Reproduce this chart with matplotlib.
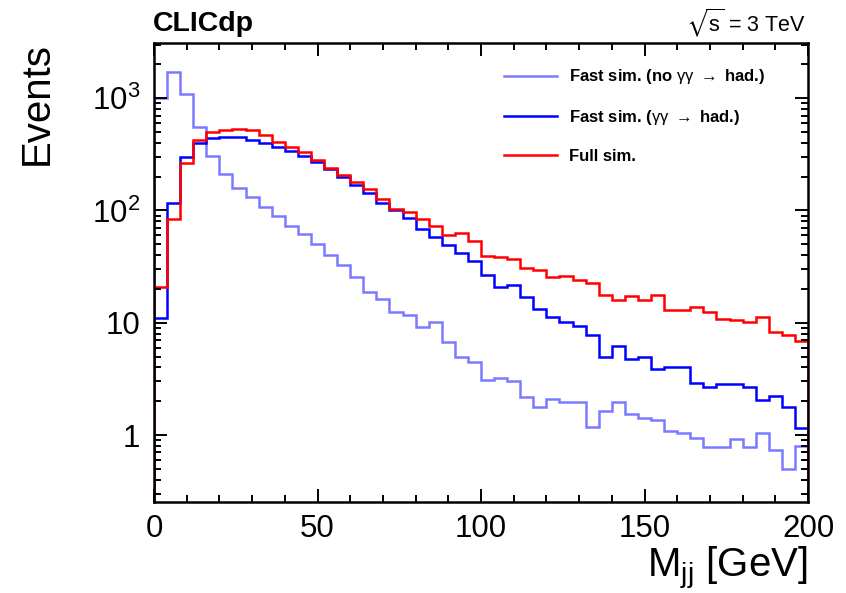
import numpy as np
import matplotlib
matplotlib.use("Agg")
import matplotlib.pyplot as plt
import matplotlib.ticker as ticker

# ── FONTS (Helvetica look-alike, as in ROOT) ───────────────
plt.rcParams['font.family'] = ['Liberation Sans', 'DejaVu Sans']
plt.rcParams['mathtext.fontset'] = 'custom'
plt.rcParams['mathtext.rm'] = 'Liberation Sans'
plt.rcParams['mathtext.it'] = 'Liberation Sans:italic'
plt.rcParams['mathtext.bf'] = 'Liberation Sans:bold'
plt.rcParams['mathtext.fallback'] = 'stix'

# ── DATA: dijet mass histograms, 4 GeV bins from 0 to 200 ──
bin_edges = np.arange(0, 204, 4)

fast_no_gg = [1000, 1700, 1100, 556, 307, 210, 159, 131, 108, 89,
              73, 62, 50, 40, 32.6, 25.7, 18.9, 16.3, 12.5, 11.7,
              9.2, 10.1, 6.8, 5.0, 4.5, 3.09, 3.2, 3.0, 2.19, 1.79,
              2.09, 1.95, 1.95, 1.19, 1.64, 1.98, 1.54, 1.41, 1.36, 1.09,
              1.04, 0.95, 0.79, 0.79, 0.92, 0.79, 1.04, 0.73, 0.50, 0.80]

fast_gg = [11, 116, 300, 396, 440, 448, 448, 424, 396, 365,
           340, 305, 272, 234, 200, 168, 142, 117, 102, 85,
           68, 58, 49, 41.5, 35.6, 26.6, 20.7, 21.7, 17.1, 13.2,
           11.3, 10.2, 9.35, 7.8, 5.0, 6.24, 4.72, 5.0, 3.85, 4.06,
           4.0, 2.89, 2.69, 2.85, 2.85, 2.66, 2.05, 2.22, 1.79, 1.15]

full_sim = [21, 84, 263, 424, 502, 520, 531, 520, 469, 409,
            365, 333, 281, 237, 207, 178, 154, 126, 104, 97,
            84, 72, 61, 63, 54, 39.3, 38.2, 36.6, 30.5, 29.5,
            25.7, 26.1, 24, 22.7, 17.6, 15.9, 17.3, 15.8, 17.6, 12.9,
            12.9, 13.8, 12.4, 10.85, 10.6, 10.2, 11.2, 8.2, 7.8, 6.9]

labels = [r'Fast sim. (no $\mathrm{\gamma\gamma}\ \rightarrow$ had.)',
          r'Fast sim. ($\mathrm{\gamma\gamma}\ \rightarrow$ had.)',
          'Full sim.']
colors = ['#7a7aff', '#0000ff', '#ff0000']

y_ticks = [1, 10, 100, 1000]
y_tick_labels = ['1', '10', r'$10^2$', r'$10^3$']

# ── FIGURE ─────────────────────────────────────────────────
fig = plt.figure(figsize=(8.46, 5.93), dpi=100)
ax = fig.add_axes([154 / 846, 1 - 501.7 / 593, 654 / 846, 458.7 / 593])

for vals, lab, col in zip([fast_no_gg, fast_gg, full_sim], labels, colors):
    ax.stairs(vals, bin_edges, baseline=1e-3, color=col, linewidth=1.8, label=lab)

ax.set_yscale('log')
ax.set_xlim(0, 200)
ax.set_ylim(0.255, 3100)

# ROOT-style ticks: inside, on all four sides
ax.xaxis.set_major_locator(ticker.MultipleLocator(50))
ax.xaxis.set_minor_locator(ticker.MultipleLocator(10))
ax.yaxis.set_major_locator(ticker.FixedLocator(y_ticks))
ax.yaxis.set_major_formatter(ticker.FixedFormatter(y_tick_labels))
ax.yaxis.set_minor_locator(ticker.LogLocator(base=10, subs=np.arange(2, 10)))
ax.yaxis.set_minor_formatter(ticker.NullFormatter())
ax.tick_params(which='both', direction='in', top=True, right=True, width=1.4)
ax.tick_params(which='major', length=9.5)
ax.tick_params(which='minor', length=5)
ax.tick_params(axis='x', labelsize=22.5, pad=9)
ax.tick_params(axis='y', labelsize=22.5, pad=10)
for sp in ax.spines.values():
    sp.set_linewidth(1.8)

# axis titles, ROOT places them at the ends of the axes
fig.text(37 / 846, 1 - 42 / 593, 'Events', rotation=90, ha='center', va='top',
         fontsize=29)
fig.text(808 / 846, 1 - 577 / 593, r'M$_{\mathrm{jj}}$ [GeV]', ha='right',
         va='baseline', fontsize=29)

fig.text(153 / 846, 1 - 31 / 593, 'CLICdp', ha='left', va='baseline',
         fontsize=20.5, fontweight='bold')
fig.text(806 / 846, 1 - 31 / 593, r'$\sqrt{\mathrm{s}}$ = 3 TeV', ha='right',
         va='baseline', fontsize=15.5)

leg = ax.legend(loc='upper left', bbox_to_anchor=(0.522, 0.965), frameon=False,
                prop={'weight': 'bold', 'size': 12}, handlelength=3.2,
                handletextpad=0.7, labelspacing=1.3, borderpad=0)

plt.savefig('out.png', dpi=100)
